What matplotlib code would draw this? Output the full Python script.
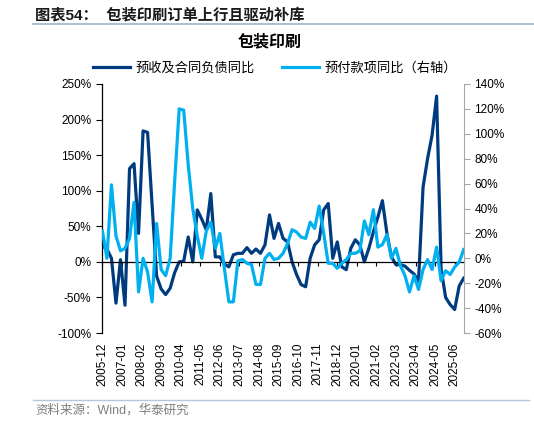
import matplotlib.pyplot as plt
import numpy as np

plt.rcParams['font.family'] = ['Liberation Sans', 'Noto Sans CJK SC', 'DejaVu Sans']

# quarterly data, 2005-12 ... 2025-12
adv_receipts = [22, 18, 5, -58, 3, -61, 131, 138, 40, 184,
                182, 80, -20, -38, -46, -37, -15, 0, 1, 35,
                0, 73, 60, 45, 96, 7, 7, -3, -7, 10,
                12, 12, 20, 12, 18, 12, 24, 66, 33, 54,
                33, 28, 0, -18, -32, -35, 5, 24, 31, 73,
                82, 5, 28, -7, -11, 19, 31, 24, 0, 19,
                42, 63, 86, 40, 7, -4, -4, -6, -12, -17,
                -27, 105, 145, 178, 233, -10, -50, -60, -67, -34,
                -23]
prepayments = [22, 0, 59, 18, 6, 8, 16, 45, -27, 0,
               -11, -35, 28, -9, -14, 0, 62, 120, 119, 75,
               40, 18, 0, 22, 29, 8, 20, -8, -35, -35,
               -2, -1, -4, -5, -21, -21, 0, 4, -1, 0,
               4, 12, 23, 21, 17, 16, 29, 24, 42, 20,
               -4, -4, -8, -4, -1, 4, 4, 6, 30, 19,
               39, 9, 11, 19, 0, 8, -6, -14, -27, -14,
               -25, -9, -1, -9, 9, -18, -10, -13, -7, -3,
               7]

months = np.arange(len(adv_receipts)) * 3  # months since 2005-12

# x tick labels every 13 months
tick_pos = np.arange(0, 235, 13)
tick_labels = []
for m in tick_pos:
    y = 2005 + (11 + m) // 12
    mo = (11 + m) % 12 + 1
    tick_labels.append(f'{y}-{mo:02d}')

dark = '#003B7F'
light = '#00B0F0'

fig = plt.figure(figsize=(5.34, 4.24), dpi=100)
ax = fig.add_axes([0.1904, 0.2146, 0.6785, 0.5873])
ax2 = ax.twinx()

l1, = ax.plot(months, adv_receipts, color=dark, lw=2.3, label='预收及合同负债同比')
l2, = ax2.plot(months, prepayments, color=light, lw=2.3, label='预付款项同比（右轴）')

ax.set_xlim(-0.5, 240.2)
ax.set_ylim(-100, 250)
ax2.set_ylim(-60, 140)
ax.set_yticks(np.arange(-100, 251, 50))
ax.set_yticklabels([f'{v}%' for v in range(-100, 251, 50)], fontsize=8.5)
ax2.set_yticks(np.arange(-60, 141, 20))
ax2.set_yticklabels([f'{v}%' for v in range(-60, 141, 20)], fontsize=8.5)

for a in (ax, ax2):
    a.spines['top'].set_visible(False)
ax.spines['right'].set_visible(False)
ax2.spines['left'].set_visible(False)
ax2.spines['bottom'].set_visible(False)
ax2.spines['right'].set_color('#A6A6A6')
ax2.tick_params(axis='y', colors='#A6A6A6', labelcolor='black', length=4, width=0.8)
ax.tick_params(axis='y', length=4, width=0.8)
ax.spines['left'].set_linewidth(0.9)

# category axis along the zero line
ax.spines['bottom'].set_position(('data', 0))
ax.spines['bottom'].set_linewidth(0.9)
ax.set_xticks(tick_pos)
ax.tick_params(axis='x', direction='out', length=3, width=0.8, labelbottom=False)

sec = ax.secondary_xaxis('bottom')
sec.set_xticks(tick_pos)
sec.set_xticklabels(tick_labels, rotation=90, fontsize=8.5)
sec.tick_params(length=0, pad=7)
sec.spines['bottom'].set_visible(False)

fig.legend(handles=[l1, l2], loc='center', bbox_to_anchor=(0.515, 0.838), ncol=2,
           frameon=False, fontsize=9.5, handlelength=2.8, columnspacing=2.0,
           handletextpad=0.45)

fig.text(0.505, 0.902, '包装印刷', ha='center', va='center', fontsize=11.5, fontweight='bold')
fig.text(0.066, 0.965, '图表54：  包装印刷订单上行且驱动补库', ha='left', va='center',
         fontsize=11, fontweight='bold', color='#1a1a1a')
fig.add_artist(plt.Line2D([0.062, 1.0], [0.943, 0.943], color='#9DB3CC', lw=1.2))
fig.add_artist(plt.Line2D([0.062, 0.99], [0.057, 0.057], color='#B4C7DC', lw=1.0))
fig.text(0.066, 0.033, '资料来源：Wind，华泰研究', ha='left', va='center',
         fontsize=9, color='#808080')

fig.savefig('out.png', dpi=100)
